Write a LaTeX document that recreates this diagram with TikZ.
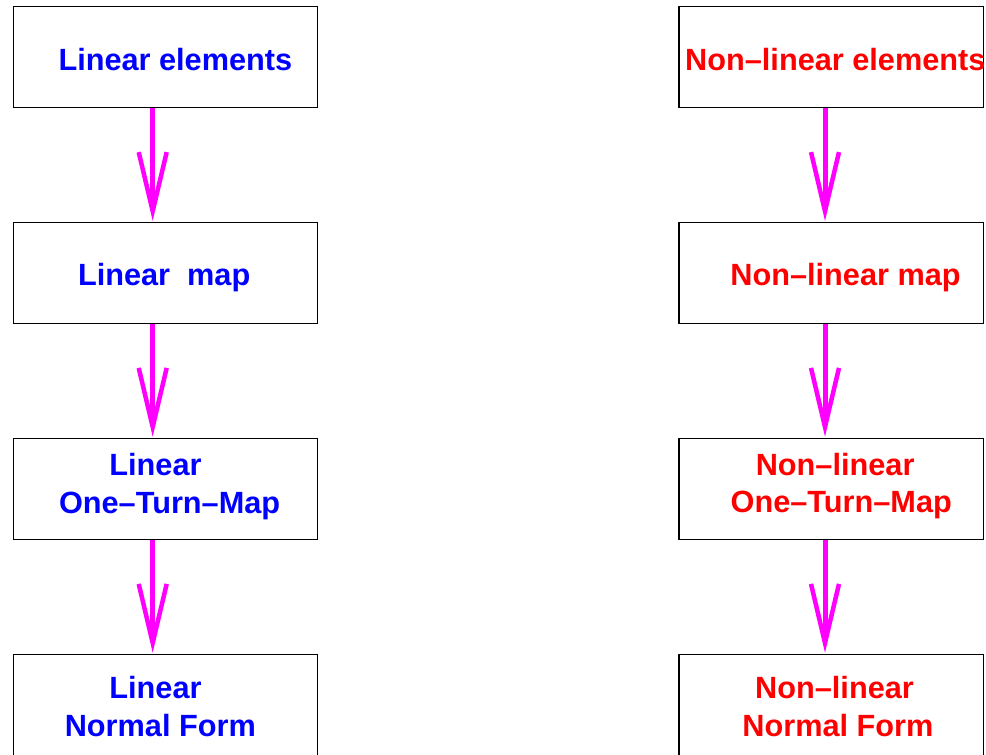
\documentclass[tikz,border=0pt]{standalone}
\usepackage{fontspec}
\setmainfont{Liberation Sans}
\usetikzlibrary{arrows.meta}
\definecolor{arrmag}{RGB}{255,0,255}
\tikzset{
  box/.style={draw=black, line width=1.3pt, minimum width=304.4pt, minimum height=101pt, inner sep=0pt, fill=none},
  lbl/.style={anchor=base west, inner sep=0pt, font=\fontsize{30.7}{36}\selectfont\bfseries},
  lin/.style={lbl, text=blue},
  nlin/.style={lbl, text=red},
  arr/.style={draw=arrmag, line width=5pt, shorten >=1pt,
    -{Straight Barb[length=59pt, width=28pt, line width=4.5pt]}}
}
\begin{document}
\begin{tikzpicture}[x=1pt, y=-1pt]
\useasboundingbox (0,0) rectangle (986,755);
% boxes
\node[box] (l1) at (165.5,57.2) {};
\node[box] (l2) at (165.5,273) {};
\node[box] (l3) at (165.5,488.8) {};
\node[box] (l4) at (165.5,704.8) {};
\node[box] (r1) at (831.2,57.2) {};
\node[box] (r2) at (831.2,273) {};
\node[box] (r3) at (831.2,488.8) {};
\node[box] (r4) at (831.2,704.8) {};
% labels
\node[lin] (tl1) at (58.3,70) {Linear elements};
\node[lin] (tl2) at (77.8,285.7) {Linear~~map};
\node[lin] (tl3a) at (109.2,475.7) {Linear};
\node[lin] (tl3b) at (58.8,513.3) {One\textendash Turn\textendash Map};
\node[lin] (tl4a) at (109.2,698.3) {Linear};
\node[lin] (tl4b) at (64.6,736.7) {Normal Form};
\node[nlin] (tr1) at (685,70) {Non\textendash linear elements};
\node[nlin] (tr2) at (730.2,285.7) {Non\textendash linear map};
\node[nlin] (tr3a) at (755.6,475.7) {Non\textendash linear};
\node[nlin] (tr3b) at (730.5,512.7) {One\textendash Turn\textendash Map};
\node[nlin] (tr4a) at (755,698.3) {Non\textendash linear};
\node[nlin] (tr4b) at (742.2,736.7) {Normal Form};
% arrows
\draw[arr] ([xshift=-12.8pt]l1.south) -- ([xshift=-12.8pt]l2.north);
\draw[arr] ([xshift=-12.8pt]l2.south) -- ([xshift=-12.8pt]l3.north);
\draw[arr] ([xshift=-12.8pt]l3.south) -- ([xshift=-12.8pt]l4.north);
\draw[arr] ([xshift=-6.2pt]r1.south) -- ([xshift=-6.2pt]r2.north);
\draw[arr] ([xshift=-6.2pt]r2.south) -- ([xshift=-6.2pt]r3.north);
\draw[arr] ([xshift=-6.2pt]r3.south) -- ([xshift=-6.2pt]r4.north);
\end{tikzpicture}
\end{document}
